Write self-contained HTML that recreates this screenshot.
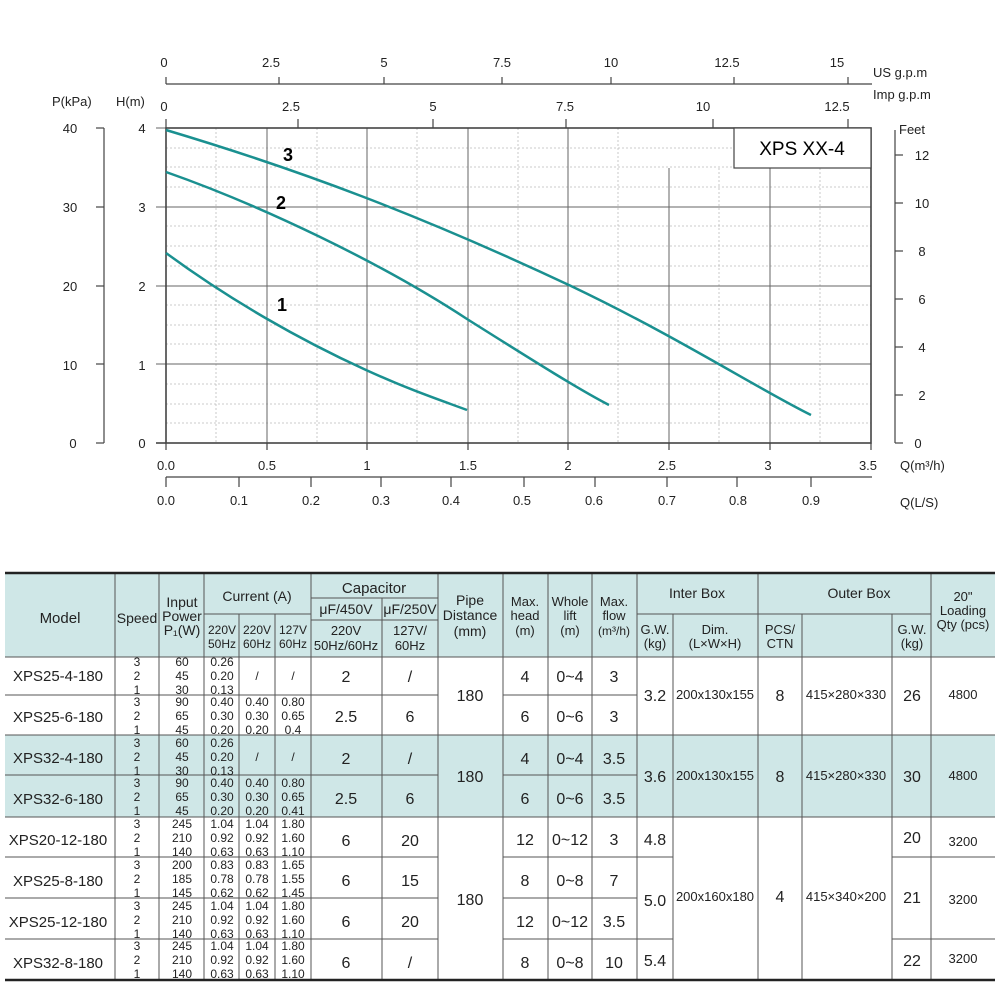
<!DOCTYPE html>
<html><head><meta charset="utf-8"><style>
body{margin:0;background:#fff}
svg{display:block;font-family:"Liberation Sans",Arial,sans-serif}
</style></head><body>
<svg width="1000" height="1000" viewBox="0 0 1000 1000" xmlns="http://www.w3.org/2000/svg">
<g stroke="#bbb" stroke-width="0.8" stroke-dasharray="2,2">
<line x1="216" y1="128" x2="216" y2="443"/><line x1="317" y1="128" x2="317" y2="443"/><line x1="417" y1="128" x2="417" y2="443"/><line x1="518" y1="128" x2="518" y2="443"/><line x1="618" y1="128" x2="618" y2="443"/><line x1="719" y1="168" x2="719" y2="443"/><line x1="820" y1="168" x2="820" y2="443"/>
<line x1="166" y1="148" x2="871" y2="148"/><line x1="166" y1="167" x2="871" y2="167"/><line x1="166" y1="187" x2="871" y2="187"/>
<line x1="166" y1="226" x2="871" y2="226"/><line x1="166" y1="246" x2="871" y2="246"/><line x1="166" y1="266" x2="871" y2="266"/>
<line x1="166" y1="305" x2="871" y2="305"/><line x1="166" y1="325" x2="871" y2="325"/><line x1="166" y1="344" x2="871" y2="344"/>
<line x1="166" y1="384" x2="871" y2="384"/><line x1="166" y1="404" x2="871" y2="404"/><line x1="166" y1="423" x2="871" y2="423"/>
</g>
<g stroke="#666" stroke-width="1">
<line x1="267" y1="128" x2="267" y2="443"/><line x1="367" y1="128" x2="367" y2="443"/><line x1="468" y1="128" x2="468" y2="443"/><line x1="568" y1="128" x2="568" y2="443"/><line x1="669" y1="168" x2="669" y2="443"/><line x1="770" y1="168" x2="770" y2="443"/>
<line x1="156" y1="207" x2="871" y2="207"/><line x1="156" y1="286" x2="871" y2="286"/><line x1="156" y1="364" x2="871" y2="364"/><line x1="156" y1="128" x2="166" y2="128"/>
</g>
<g stroke="#444" stroke-width="1.6" fill="none">
<rect x="166" y="128" width="705" height="315"/>
<line x1="156" y1="443" x2="166" y2="443"/>
</g>
<rect x="734" y="128" width="137" height="40" fill="#fff" stroke="#444" stroke-width="1.2"/>
<text x="802" y="155" font-size="19" text-anchor="middle">XPS XX-4</text>
<g stroke="#1a9090" stroke-width="2.5" fill="none">
<path d="M166,130 C300,170 420,215 571,286 C680,338 760,390 811,415"/>
<path d="M166,172 C260,205 380,262 467,319 C540,365 580,390 609,405"/>
<path d="M166,253 C230,300 300,340 366,370 C410,390 440,400 467,410"/>
</g>
<g font-size="18" font-weight="bold"><text x="283" y="161">3</text><text x="276" y="209">2</text><text x="277" y="311">1</text></g>
<g font-size="13" fill="#222">
<text x="52" y="106">P(kPa)</text><text x="116" y="106">H(m)</text>
<text x="70" y="133" text-anchor="middle">40</text><text x="70" y="212" text-anchor="middle">30</text><text x="70" y="291" text-anchor="middle">20</text><text x="70" y="370" text-anchor="middle">10</text><text x="73" y="448" text-anchor="middle">0</text>
<text x="142" y="133" text-anchor="middle">4</text><text x="142" y="212" text-anchor="middle">3</text><text x="142" y="291" text-anchor="middle">2</text><text x="142" y="370" text-anchor="middle">1</text><text x="142" y="448" text-anchor="middle">0</text>
</g>
<g stroke="#444" stroke-width="1.2">
<line x1="104" y1="128" x2="104" y2="443"/>
<line x1="96" y1="128" x2="104" y2="128"/><line x1="96" y1="207" x2="104" y2="207"/><line x1="96" y1="286" x2="104" y2="286"/><line x1="96" y1="364" x2="104" y2="364"/><line x1="96" y1="443" x2="104" y2="443"/>
</g>
<g stroke="#444" stroke-width="1.2">
<line x1="895" y1="130" x2="895" y2="443"/>
<line x1="895" y1="155" x2="903" y2="155"/><line x1="895" y1="203" x2="903" y2="203"/><line x1="895" y1="251" x2="903" y2="251"/><line x1="895" y1="299" x2="903" y2="299"/><line x1="895" y1="347" x2="903" y2="347"/><line x1="895" y1="395" x2="903" y2="395"/><line x1="895" y1="443" x2="903" y2="443"/>
</g>
<g font-size="13" fill="#222">
<text x="899" y="134">Feet</text>
<text x="922" y="160" text-anchor="middle">12</text><text x="922" y="208" text-anchor="middle">10</text><text x="922" y="256" text-anchor="middle">8</text><text x="922" y="304" text-anchor="middle">6</text><text x="922" y="352" text-anchor="middle">4</text><text x="922" y="400" text-anchor="middle">2</text><text x="918" y="448" text-anchor="middle">0</text>
</g>
<g stroke="#444" stroke-width="1.2">
<line x1="166" y1="84" x2="872" y2="84"/>
<line x1="166" y1="77" x2="166" y2="84"/><line x1="279" y1="77" x2="279" y2="84"/><line x1="384" y1="77" x2="384" y2="84"/><line x1="502" y1="77" x2="502" y2="84"/><line x1="611" y1="77" x2="611" y2="84"/><line x1="734" y1="77" x2="734" y2="84"/><line x1="848" y1="77" x2="848" y2="84"/>
<line x1="166" y1="119" x2="166" y2="128"/><line x1="298" y1="119" x2="298" y2="128"/><line x1="433" y1="119" x2="433" y2="128"/><line x1="566" y1="119" x2="566" y2="128"/><line x1="713" y1="119" x2="713" y2="128"/><line x1="848" y1="119" x2="848" y2="128"/>
</g>
<g font-size="13" fill="#222" text-anchor="middle">
<text x="164" y="67">0</text><text x="271" y="67">2.5</text><text x="384" y="67">5</text><text x="502" y="67">7.5</text><text x="611" y="67">10</text><text x="727" y="67">12.5</text><text x="837" y="67">15</text>
<text x="164" y="111">0</text><text x="291" y="111">2.5</text><text x="433" y="111">5</text><text x="565" y="111">7.5</text><text x="703" y="111">10</text><text x="837" y="111">12.5</text>
</g>
<g font-size="13" fill="#222"><text x="873" y="77">US  g.p.m</text><text x="873" y="99">Imp  g.p.m</text></g>
<g stroke="#444" stroke-width="1.2">
<line x1="166" y1="443" x2="166" y2="450"/><line x1="267" y1="443" x2="267" y2="450"/><line x1="367" y1="443" x2="367" y2="450"/><line x1="468" y1="443" x2="468" y2="450"/><line x1="568" y1="443" x2="568" y2="450"/><line x1="669" y1="443" x2="669" y2="450"/><line x1="770" y1="443" x2="770" y2="450"/><line x1="871" y1="443" x2="871" y2="450"/>
<line x1="166" y1="477" x2="872" y2="477"/>
<line x1="166" y1="477" x2="166" y2="487"/><line x1="239" y1="477" x2="239" y2="487"/><line x1="311" y1="477" x2="311" y2="487"/><line x1="381" y1="477" x2="381" y2="487"/><line x1="451" y1="477" x2="451" y2="487"/><line x1="524" y1="477" x2="524" y2="487"/><line x1="595" y1="477" x2="595" y2="487"/><line x1="667" y1="477" x2="667" y2="487"/><line x1="737" y1="477" x2="737" y2="487"/><line x1="811" y1="477" x2="811" y2="487"/>
</g>
<g font-size="13" fill="#222" text-anchor="middle">
<text x="166" y="470">0.0</text><text x="267" y="470">0.5</text><text x="367" y="470">1</text><text x="468" y="470">1.5</text><text x="568" y="470">2</text><text x="667" y="470">2.5</text><text x="768" y="470">3</text><text x="868" y="470">3.5</text>
<text x="166" y="505">0.0</text><text x="239" y="505">0.1</text><text x="311" y="505">0.2</text><text x="381" y="505">0.3</text><text x="451" y="505">0.4</text><text x="522" y="505">0.5</text><text x="594" y="505">0.6</text><text x="667" y="505">0.7</text><text x="738" y="505">0.8</text><text x="811" y="505">0.9</text>
</g>
<g font-size="13" fill="#222"><text x="900" y="470">Q(m³/h)</text><text x="900" y="507">Q(L/S)</text></g>

<!-- TABLE -->
<rect x="5" y="573" width="990" height="84" fill="#cfe7e7"/>
<rect x="5" y="735" width="990" height="82" fill="#cfe7e7"/>
<g stroke="#555" stroke-width="1" fill="none">
<line x1="5" y1="657" x2="995" y2="657"/>
<line x1="5" y1="695" x2="438" y2="695"/><line x1="503" y1="695" x2="637" y2="695"/>
<line x1="5" y1="735" x2="995" y2="735"/>
<line x1="5" y1="775" x2="438" y2="775"/><line x1="503" y1="775" x2="637" y2="775"/>
<line x1="5" y1="817" x2="995" y2="817"/>
<line x1="5" y1="857" x2="438" y2="857"/><line x1="5" y1="898" x2="438" y2="898"/><line x1="5" y1="939" x2="438" y2="939"/>
<line x1="503" y1="857" x2="673" y2="857"/><line x1="503" y1="898" x2="637" y2="898"/><line x1="503" y1="939" x2="673" y2="939"/>
<line x1="892" y1="857" x2="995" y2="857"/><line x1="892" y1="939" x2="995" y2="939"/>
<line x1="204" y1="614" x2="311" y2="614"/><line x1="311" y1="598" x2="438" y2="598"/><line x1="311" y1="620" x2="438" y2="620"/>
<line x1="637" y1="614" x2="931" y2="614"/>
<line x1="115" y1="573" x2="115" y2="980"/><line x1="159" y1="573" x2="159" y2="980"/><line x1="204" y1="573" x2="204" y2="980"/>
<line x1="239" y1="614" x2="239" y2="980"/><line x1="275" y1="614" x2="275" y2="980"/><line x1="311" y1="573" x2="311" y2="980"/>
<line x1="382" y1="598" x2="382" y2="980"/><line x1="438" y1="573" x2="438" y2="980"/><line x1="503" y1="573" x2="503" y2="980"/>
<line x1="548" y1="573" x2="548" y2="980"/><line x1="592" y1="573" x2="592" y2="980"/><line x1="637" y1="573" x2="637" y2="980"/>
<line x1="673" y1="614" x2="673" y2="980"/><line x1="758" y1="573" x2="758" y2="980"/><line x1="802" y1="614" x2="802" y2="980"/>
<line x1="892" y1="614" x2="892" y2="980"/><line x1="931" y1="573" x2="931" y2="980"/>
</g>
<line x1="5" y1="573" x2="995" y2="573" stroke="#222" stroke-width="2.5"/>
<line x1="5" y1="980" x2="995" y2="980" stroke="#222" stroke-width="2.5"/>
<g font-size="14" fill="#222" text-anchor="middle">
<text x="60" y="623" font-size="15">Model</text><text x="137" y="623">Speed</text>
<text x="182" y="607">Input</text><text x="182" y="621">Power</text><text x="182" y="635">P₁(W)</text>
<text x="257" y="601">Current  (A)</text>
<text x="374" y="593" font-size="15">Capacitor</text>
<text x="346" y="614">μF/450V</text><text x="410" y="614">μF/250V</text>
<text x="346" y="635" font-size="13">220V</text><text x="346" y="650" font-size="13">50Hz/60Hz</text>
<text x="410" y="635" font-size="13">127V/</text><text x="410" y="650" font-size="13">60Hz</text>
<text x="470" y="605">Pipe</text><text x="470" y="620">Distance</text><text x="470" y="636">(mm)</text>
<text x="525" y="606" font-size="13">Max.</text><text x="525" y="620" font-size="13">head</text><text x="525" y="635" font-size="13">(m)</text>
<text x="570" y="606" font-size="13">Whole</text><text x="570" y="620" font-size="13">lift</text><text x="570" y="635" font-size="13">(m)</text>
<text x="614" y="606" font-size="13">Max.</text><text x="614" y="620" font-size="13">flow</text><text x="614" y="635" font-size="12">(m³/h)</text>
<text x="697" y="598">Inter Box</text><text x="859" y="598">Outer Box</text>
<text x="963" y="601" font-size="13">20"</text><text x="963" y="615" font-size="13">Loading</text><text x="963" y="629" font-size="13">Qty (pcs)</text>
<text x="655" y="634" font-size="13">G.W.</text><text x="655" y="648" font-size="13">(kg)</text>
<text x="715" y="634" font-size="13">Dim.</text><text x="715" y="648" font-size="13">(L×W×H)</text>
<text x="780" y="634" font-size="13">PCS/</text><text x="780" y="648" font-size="13">CTN</text>
<text x="912" y="634" font-size="13">G.W.</text><text x="912" y="648" font-size="13">(kg)</text>
<g font-size="12">
<text x="222" y="634">220V</text><text x="222" y="648">50Hz</text><text x="257" y="634">220V</text><text x="257" y="648">60Hz</text><text x="293" y="634">127V</text><text x="293" y="648">60Hz</text>
</g>
</g>
<g font-size="15" fill="#222" text-anchor="middle">
<text x="58" y="681">XPS25-4-180</text><text x="58" y="722">XPS25-6-180</text><text x="58" y="763">XPS32-4-180</text><text x="58" y="804">XPS32-6-180</text>
<text x="58" y="845">XPS20-12-180</text><text x="58" y="886">XPS25-8-180</text><text x="58" y="927">XPS25-12-180</text><text x="58" y="968">XPS32-8-180</text>
</g>
<g font-size="12" fill="#222" text-anchor="middle">
<g transform="translate(0,657)"><text x="137" y="9">3</text><text x="137" y="23">2</text><text x="137" y="37">1</text><text x="182" y="9">60</text><text x="182" y="23">45</text><text x="182" y="37">30</text><text x="222" y="9">0.26</text><text x="222" y="23">0.20</text><text x="222" y="37">0.13</text><text x="257" y="23">/</text><text x="293" y="23">/</text></g>
<g transform="translate(0,697)"><text x="137" y="9">3</text><text x="137" y="23">2</text><text x="137" y="37">1</text><text x="182" y="9">90</text><text x="182" y="23">65</text><text x="182" y="37">45</text><text x="222" y="9">0.40</text><text x="222" y="23">0.30</text><text x="222" y="37">0.20</text><text x="257" y="9">0.40</text><text x="257" y="23">0.30</text><text x="257" y="37">0.20</text><text x="293" y="9">0.80</text><text x="293" y="23">0.65</text><text x="293" y="37">0.4</text></g>
<g transform="translate(0,738)"><text x="137" y="9">3</text><text x="137" y="23">2</text><text x="137" y="37">1</text><text x="182" y="9">60</text><text x="182" y="23">45</text><text x="182" y="37">30</text><text x="222" y="9">0.26</text><text x="222" y="23">0.20</text><text x="222" y="37">0.13</text><text x="257" y="23">/</text><text x="293" y="23">/</text></g>
<g transform="translate(0,778)"><text x="137" y="9">3</text><text x="137" y="23">2</text><text x="137" y="37">1</text><text x="182" y="9">90</text><text x="182" y="23">65</text><text x="182" y="37">45</text><text x="222" y="9">0.40</text><text x="222" y="23">0.30</text><text x="222" y="37">0.20</text><text x="257" y="9">0.40</text><text x="257" y="23">0.30</text><text x="257" y="37">0.20</text><text x="293" y="9">0.80</text><text x="293" y="23">0.65</text><text x="293" y="37">0.41</text></g>
<g transform="translate(0,819)"><text x="137" y="9">3</text><text x="137" y="23">2</text><text x="137" y="37">1</text><text x="182" y="9">245</text><text x="182" y="23">210</text><text x="182" y="37">140</text><text x="222" y="9">1.04</text><text x="222" y="23">0.92</text><text x="222" y="37">0.63</text><text x="257" y="9">1.04</text><text x="257" y="23">0.92</text><text x="257" y="37">0.63</text><text x="293" y="9">1.80</text><text x="293" y="23">1.60</text><text x="293" y="37">1.10</text></g>
<g transform="translate(0,860)"><text x="137" y="9">3</text><text x="137" y="23">2</text><text x="137" y="37">1</text><text x="182" y="9">200</text><text x="182" y="23">185</text><text x="182" y="37">145</text><text x="222" y="9">0.83</text><text x="222" y="23">0.78</text><text x="222" y="37">0.62</text><text x="257" y="9">0.83</text><text x="257" y="23">0.78</text><text x="257" y="37">0.62</text><text x="293" y="9">1.65</text><text x="293" y="23">1.55</text><text x="293" y="37">1.45</text></g>
<g transform="translate(0,901)"><text x="137" y="9">3</text><text x="137" y="23">2</text><text x="137" y="37">1</text><text x="182" y="9">245</text><text x="182" y="23">210</text><text x="182" y="37">140</text><text x="222" y="9">1.04</text><text x="222" y="23">0.92</text><text x="222" y="37">0.63</text><text x="257" y="9">1.04</text><text x="257" y="23">0.92</text><text x="257" y="37">0.63</text><text x="293" y="9">1.80</text><text x="293" y="23">1.60</text><text x="293" y="37">1.10</text></g>
<g transform="translate(0,941)"><text x="137" y="9">3</text><text x="137" y="23">2</text><text x="137" y="37">1</text><text x="182" y="9">245</text><text x="182" y="23">210</text><text x="182" y="37">140</text><text x="222" y="9">1.04</text><text x="222" y="23">0.92</text><text x="222" y="37">0.63</text><text x="257" y="9">1.04</text><text x="257" y="23">0.92</text><text x="257" y="37">0.63</text><text x="293" y="9">1.80</text><text x="293" y="23">1.60</text><text x="293" y="37">1.10</text></g>
</g>
<g font-size="16" fill="#222" text-anchor="middle">
<text x="346" y="682">2</text><text x="410" y="682">/</text><text x="346" y="722">2.5</text><text x="410" y="722">6</text>
<text x="346" y="764">2</text><text x="410" y="764">/</text><text x="346" y="804">2.5</text><text x="410" y="804">6</text>
<text x="346" y="846">6</text><text x="410" y="846">20</text><text x="346" y="886">6</text><text x="410" y="886">15</text>
<text x="346" y="927">6</text><text x="410" y="927">20</text><text x="346" y="968">6</text><text x="410" y="968">/</text>
<text x="470" y="701">180</text><text x="470" y="782">180</text><text x="470" y="905">180</text>
<text x="525" y="682">4</text><text x="570" y="682">0~4</text><text x="614" y="682">3</text>
<text x="525" y="722">6</text><text x="570" y="722">0~6</text><text x="614" y="722">3</text>
<text x="525" y="764">4</text><text x="570" y="764">0~4</text><text x="614" y="764">3.5</text>
<text x="525" y="804">6</text><text x="570" y="804">0~6</text><text x="614" y="804">3.5</text>
<text x="525" y="845">12</text><text x="570" y="845">0~12</text><text x="614" y="845">3</text>
<text x="525" y="886">8</text><text x="570" y="886">0~8</text><text x="614" y="886">7</text>
<text x="525" y="927">12</text><text x="570" y="927">0~12</text><text x="614" y="927">3.5</text>
<text x="525" y="968">8</text><text x="570" y="968">0~8</text><text x="614" y="968">10</text>
<text x="655" y="701">3.2</text><text x="655" y="782">3.6</text><text x="655" y="845">4.8</text><text x="655" y="906">5.0</text><text x="655" y="966">5.4</text>
<text x="780" y="701">8</text><text x="780" y="782">8</text><text x="780" y="902">4</text>
<text x="912" y="701">26</text><text x="912" y="782">30</text><text x="912" y="843">20</text><text x="912" y="903">21</text><text x="912" y="966">22</text>
</g>
<g font-size="13" fill="#222" text-anchor="middle">
<text x="715" y="699">200x130x155</text><text x="715" y="780">200x130x155</text><text x="715" y="901">200x160x180</text>
<text x="846" y="699">415×280×330</text><text x="846" y="780">415×280×330</text><text x="846" y="901">415×340×200</text>
<text x="963" y="699">4800</text><text x="963" y="780">4800</text><text x="963" y="846">3200</text><text x="963" y="904">3200</text><text x="963" y="963">3200</text>
</g>
</svg>
</body></html>
